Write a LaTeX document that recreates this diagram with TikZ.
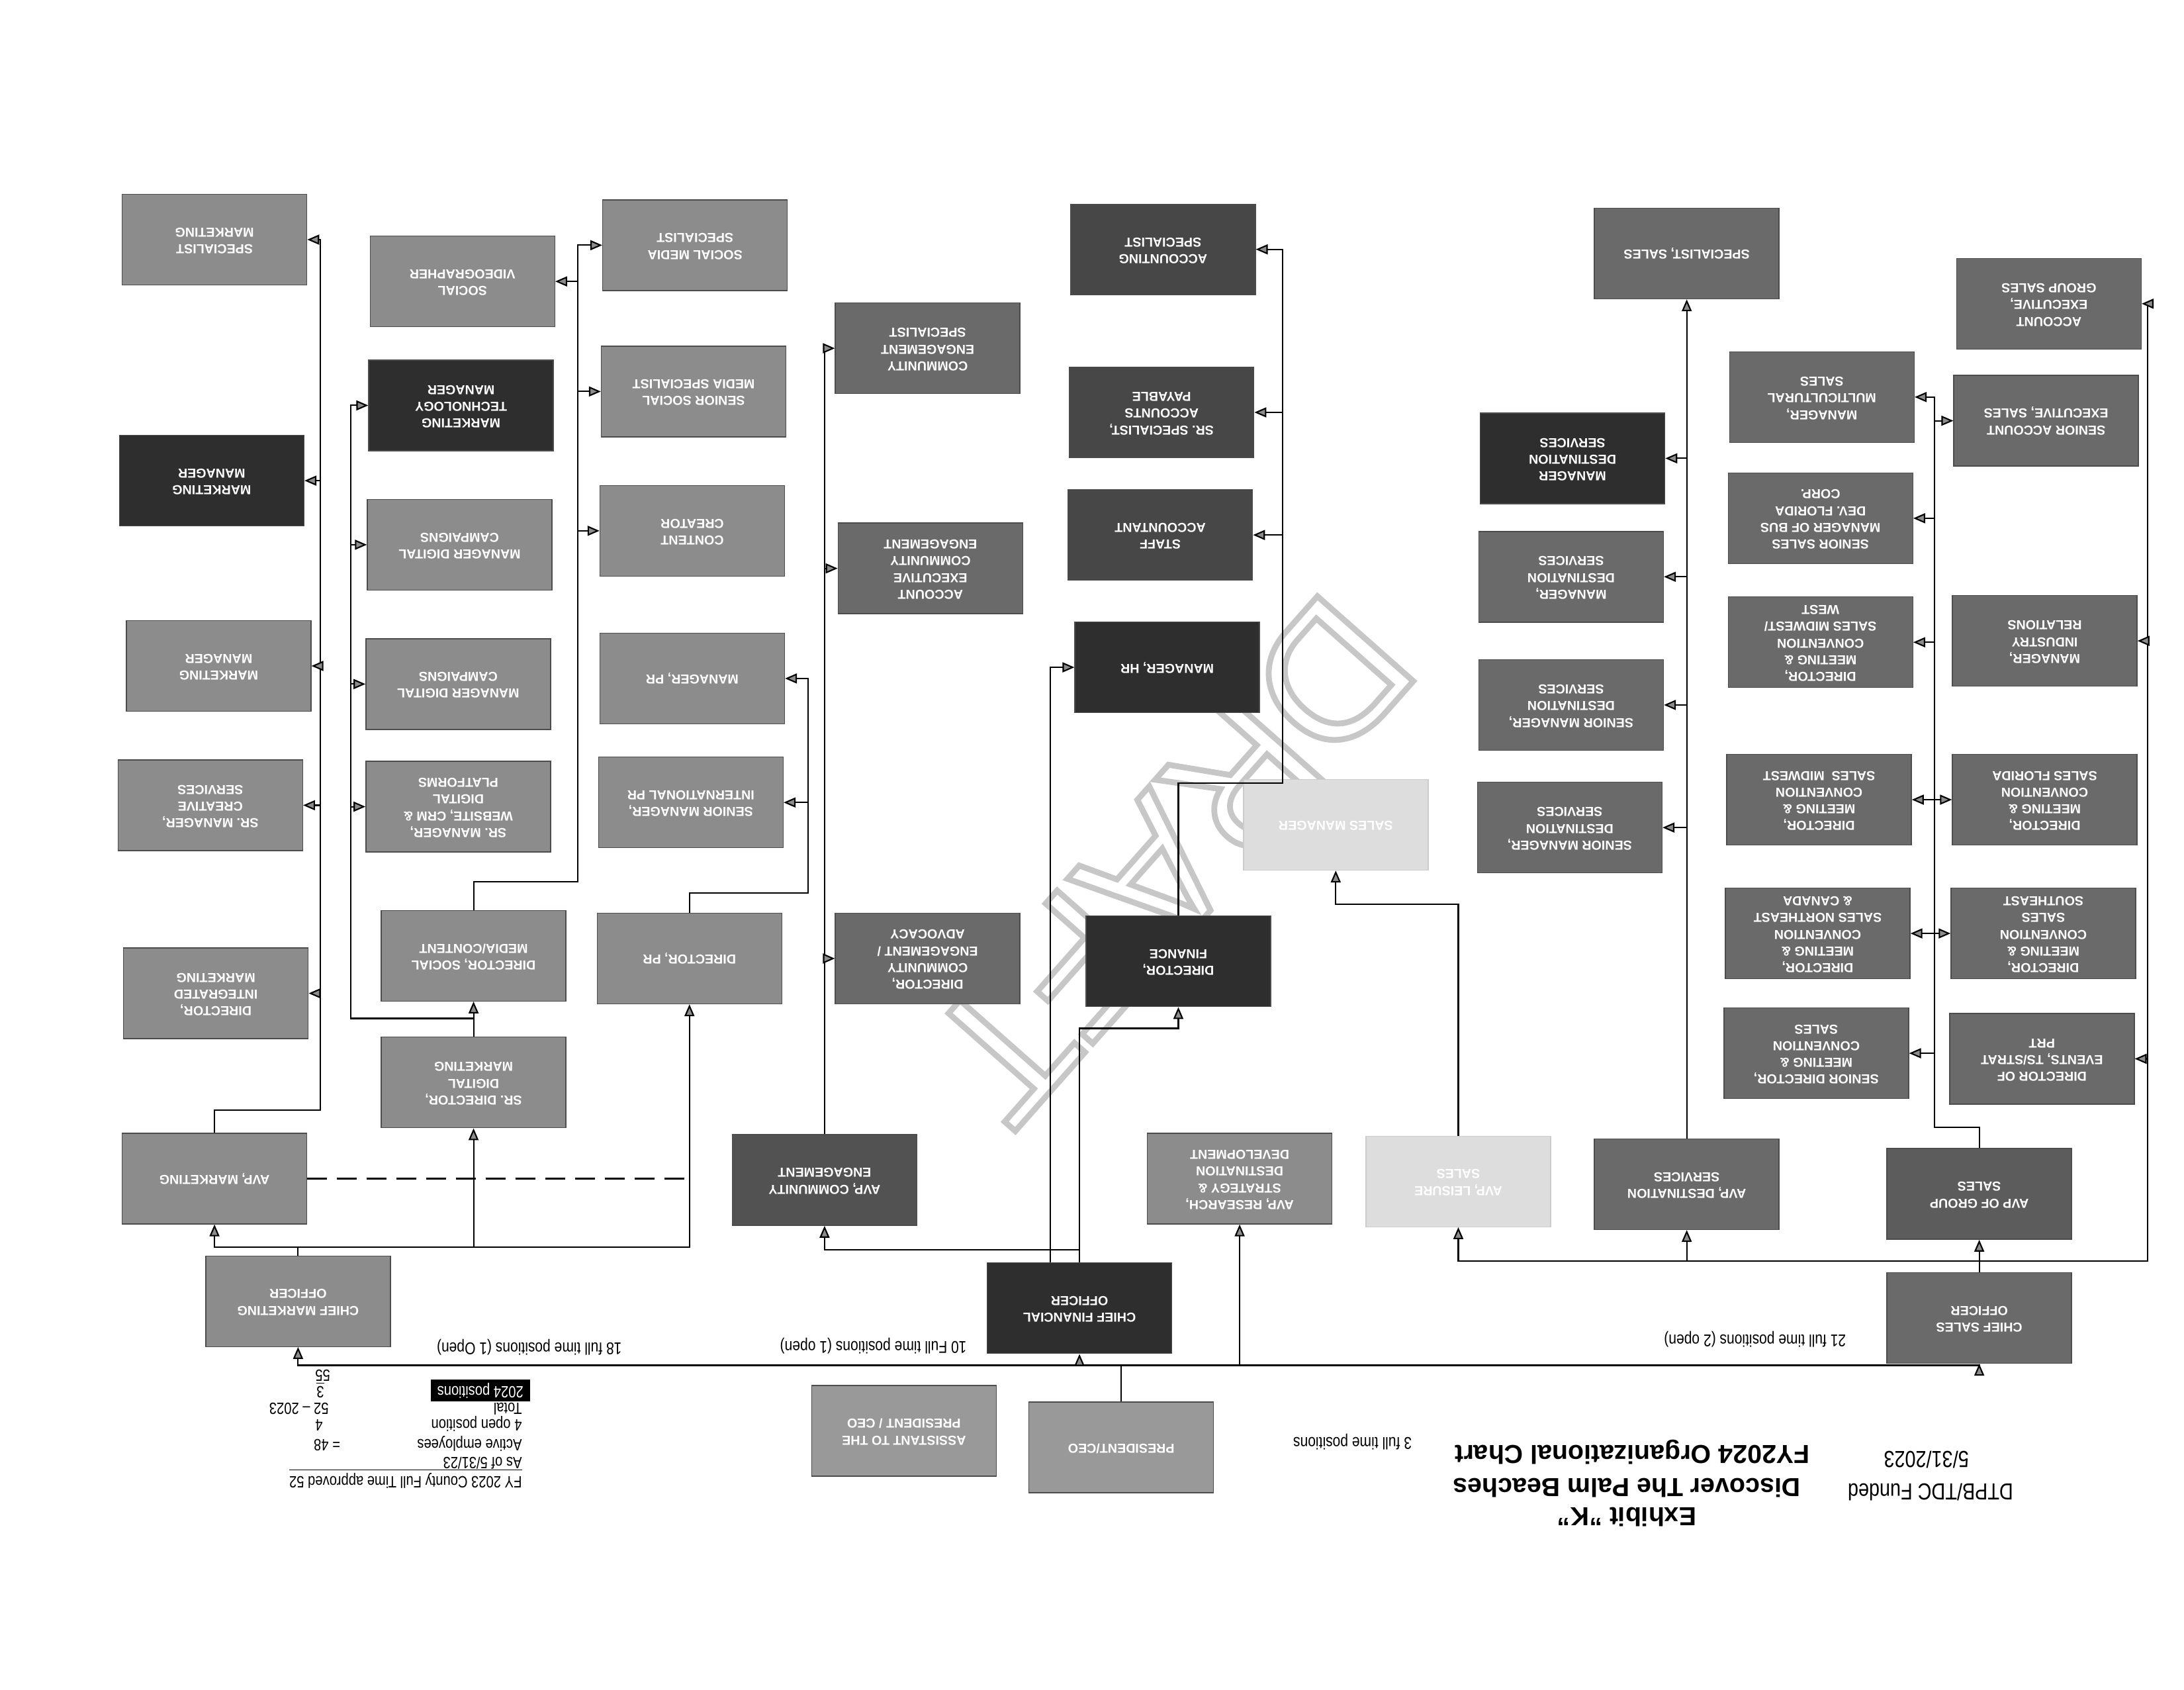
\documentclass[tikz,border=0pt]{standalone}
\usepackage{fontspec}
\setmainfont{Liberation Sans}
\newfontfamily\narrowfont{Liberation Sans}[FakeStretch=0.82]
\usepackage{graphicx}
\usetikzlibrary{arrows.meta,positioning,calc}

\definecolor{boxmid}{HTML}{8C8C8C}
\definecolor{boxlight}{HTML}{DDDDDD}
\definecolor{boxdark}{HTML}{6A6A6A}
\definecolor{boxdeep}{HTML}{474747}
\definecolor{boxblack}{HTML}{2E2E2E}

% the whole sheet is scanned upside down
\newcommand{\updown}[1]{\rotatebox[origin=c]{180}{\begin{tabular}{@{}c@{}}#1\end{tabular}}}
% hollow letters for the watermark
\newcommand{\hollow}[1]{\special{pdf:literal direct 1 Tr 2.5 w}#1\special{pdf:literal direct 0 Tr}}

\tikzset{
  post/.style={draw=black!70, line width=0.4pt, fill=boxmid, text=white,
    minimum width=27.9mm, minimum height=13.7mm, inner sep=0pt,
    font=\fontsize{5.6}{7.2}\selectfont\bfseries},
  lightpost/.style={post, fill=boxlight, draw=black!20},
  note/.style={font=\narrowfont\fontsize{7.3}{9}\selectfont, inner sep=0.5pt},
  legend/.style={font=\narrowfont\fontsize{7}{8.5}\selectfont, inner sep=0.5pt},
  titletext/.style={font=\fontsize{11.2}{14}\selectfont\bfseries, inner sep=0pt},
  fundtext/.style={font=\narrowfont\fontsize{10}{12}\selectfont, inner sep=0pt},
  watermark/.style={font=\fontsize{80}{80}\selectfont, text=black!22, rotate=228.5}
}

\begin{document}
\begin{tikzpicture}[x=0.21046mm, y=-0.21046mm, line width=0.6pt,
    >={Triangle[length=1.8mm,width=1.5mm,fill=black!45]}]
  \fill[white] (0,0) rectangle (1568,1213);
  \node[watermark] (draft) at (840,617) {\hollow{DRAFT}};

  % marketing
  \node[post] (specmkt) at (154,172) {\updown{SPECIALIST\\MARKETING}};
  \node[post, fill=boxblack] (mktmgr) at (152,345) {\updown{MARKETING\\MANAGER}};
  \node[post] (mktmgr2) at (157,478) {\updown{MARKETING\\MANAGER}};
  \node[post] (srmgrcre) at (151,578) {\updown{SR. MANAGER,\\CREATIVE\\SERVICES}};
  \node[post] (dirint) at (155,713) {\updown{DIRECTOR,\\INTEGRATED\\MARKETING}};
  \node[post] (avpmkt) at (154,846) {\updown{AVP, MARKETING}};
  \node[post] (cmo) at (214,934) {\updown{CHIEF MARKETING\\OFFICER}};

  \node[post] (socvid) at (332,202) {\updown{SOCIAL\\VIDEOGRAPHER}};
  \node[post, fill=boxblack] (mtm) at (331,291) {\updown{MARKETING\\TECHNOLOGY\\MANAGER}};
  \node[post] (mdc1) at (330,391) {\updown{MANAGER DIGITAL\\CAMPAIGNS}};
  \node[post] (mdc2) at (329,491) {\updown{MANAGER DIGITAL\\CAMPAIGNS}};
  \node[post] (srweb) at (329,579) {\updown{SR. MANAGER,\\WEBSITE, CRM \&\\DIGITAL\\PLATFORMS}};
  \node[post] (dirsoc) at (340,686) {\updown{DIRECTOR, SOCIAL\\MEDIA/CONTENT}};
  \node[post] (srdir) at (340,777) {\updown{SR. DIRECTOR,\\DIGITAL\\MARKETING}};

  \node[post] (smspec) at (499,176) {\updown{SOCIAL MEDIA\\SPECIALIST}};
  \node[post] (srsms) at (498,281) {\updown{SENIOR SOCIAL\\MEDIA SPECIALIST}};
  \node[post] (ccre) at (497,381) {\updown{CONTENT\\CREATOR}};
  \node[post] (mgrpr) at (497,487) {\updown{MANAGER, PR}};
  \node[post] (srintl) at (496,576) {\updown{SENIOR MANAGER,\\INTERNATIONAL PR}};
  \node[post] (dirpr) at (495,688) {\updown{DIRECTOR, PR}};

  % community and finance
  \node[post, fill=boxdark] (ces) at (666,250) {\updown{COMMUNITY\\ENGAGEMENT\\SPECIALIST}};
  \node[post, fill=boxdark] (aece) at (668,408) {\updown{ACCOUNT\\EXECUTIVE\\COMMUNITY\\ENGAGEMENT}};
  \node[post, fill=boxdark] (dcea) at (666,688) {\updown{DIRECTOR,\\COMMUNITY\\ENGAGEMENT /\\ADVOCACY}};
  \node[post, fill=black!68] (avpcomm) at (592,847) {\updown{AVP, COMMUNITY\\ENGAGEMENT}};

  \node[post, fill=boxdeep] (acctspec) at (835,179) {\updown{ACCOUNTING\\SPECIALIST}};
  \node[post, fill=boxdeep] (srspec) at (834,296) {\updown{SR. SPECIALIST,\\ACCOUNTS\\PAYABLE}};
  \node[post, fill=boxdeep] (staff) at (833,384) {\updown{STAFF\\ACCOUNTANT}};
  \node[post, fill=boxblack] (mgrhr) at (838,479) {\updown{MANAGER, HR}};
  \node[post, fill=boxblack] (dirfin) at (846,690) {\updown{DIRECTOR,\\FINANCE}};
  \node[post, fill=boxblack] (cfo) at (775,939) {\updown{CHIEF FINANCIAL\\OFFICER}};

  \node[post, fill=black!40] (ceo) at (805,1039) {\updown{PRESIDENT/CEO}};
  \node[post, fill=black!40] (asst) at (649,1027) {\updown{ASSISTANT TO THE\\PRESIDENT / CEO}};
  \node[post] (avpres) at (890,846) {\updown{AVP, RESEARCH,\\STRATEGY \&\\DESTINATION\\DEVELOPMENT}};
  \node[lightpost] (salesmgr) at (959,592) {\updown{SALES MANAGER}};
  \node[lightpost] (avpleis) at (1047,848) {\updown{AVP, LEISURE\\SALES}};

  % sales
  \node[post, fill=boxdark] (spsales) at (1211,182) {\updown{SPECIALIST, SALES}};
  \node[post, fill=boxblack] (mds) at (1129,329) {\updown{MANAGER\\DESTINATION\\SERVICES}};
  \node[post, fill=boxdark] (mgrds) at (1128,414) {\updown{MANAGER,\\DESTINATION\\SERVICES}};
  \node[post, fill=boxdark] (srmds1) at (1128,506) {\updown{SENIOR MANAGER,\\DESTINATION\\SERVICES}};
  \node[post, fill=boxdark] (srmds2) at (1127,594) {\updown{SENIOR MANAGER,\\DESTINATION\\SERVICES}};
  \node[post, fill=boxdark] (avpdest) at (1211,850) {\updown{AVP, DESTINATION\\SERVICES}};

  \node[post, fill=boxdark] (mgrmulti) at (1308,285) {\updown{MANAGER,\\MULTICULTURAL\\SALES}};
  \node[post, fill=boxdark] (srsalesmgr) at (1307,372) {\updown{SENIOR SALES\\MANAGER OF BUS\\DEV. FLORIDA\\CORP.}};
  \node[post, fill=boxdark] (dirmw) at (1307,461) {\updown{DIRECTOR,\\MEETING \&\\CONVENTION\\SALES MIDWEST/\\WEST}};
  \node[post, fill=boxdark] (dirmid) at (1306,574) {\updown{DIRECTOR,\\MEETING \&\\CONVENTION\\SALES \ MIDWEST}};
  \node[post, fill=boxdark] (dirne) at (1305,670) {\updown{DIRECTOR,\\MEETING \&\\CONVENTION\\SALES NORTHEAST\\\& CANADA}};
  \node[post, fill=boxdark] (srdirmc) at (1304,756) {\updown{SENIOR DIRECTOR,\\MEETING \&\\CONVENTION\\SALES}};

  \node[post, fill=boxdark] (acctgrp) at (1471,218) {\updown{ACCOUNT\\EXECUTIVE,\\GROUP SALES}};
  \node[post, fill=boxdark] (sraesales) at (1469,302) {\updown{SENIOR ACCOUNT\\EXECUTIVE, SALES}};
  \node[post, fill=boxdark] (mgrind) at (1468,460) {\updown{MANAGER,\\INDUSTRY\\RELATIONS}};
  \node[post, fill=boxdark] (dirfl) at (1468,574) {\updown{DIRECTOR,\\MEETING \&\\CONVENTION\\SALES FLORIDA}};
  \node[post, fill=boxdark] (dirse) at (1467,670) {\updown{DIRECTOR,\\MEETING \&\\CONVENTION\\SALES\\SOUTHEAST}};
  \node[post, fill=boxdark] (direvt) at (1466,760) {\updown{DIRECTOR OF\\EVENTS, TS/STRAT\\PRT}};
  \node[post, fill=black!64] (avpgrp) at (1421,857) {\updown{AVP OF GROUP\\SALES}};
  \node[post, fill=boxdark] (cso) at (1421,946) {\updown{CHIEF SALES\\OFFICER}};

  % marketing lines
  \coordinate (mktbus) at (230,797);
  \draw[->] (avpmkt.north) |- (mktbus) |- (specmkt.east);
  \foreach \n in {mktmgr,mktmgr2,srmgrcre,dirint}
    \draw[->] (mktbus |- \n.east) -- (\n.east);
  \coordinate (digbus) at (252,731);
  \draw[->] (srdir.north) |- (digbus) |- (mtm.west);
  \foreach \n in {mdc1,mdc2,srweb}
    \draw[->] (digbus |- \n.west) -- (\n.west);
  \draw[->] (srdir.north) -- (dirsoc.south);
  \coordinate (socbus) at (415,633);
  \draw[->] (dirsoc.north) |- (socbus) |- (smspec.west);
  \draw[->] (socbus |- socvid.east) -- (socvid.east);
  \foreach \n in {srsms,ccre}
    \draw[->] (socbus |- \n.west) -- (\n.west);
  \coordinate (prbus) at (580,641);
  \draw[->] (dirpr.north) |- (prbus) |- (mgrpr.east);
  \draw[->] (prbus |- srintl.east) -- (srintl.east);
  \coordinate (cmobus) at (214,895);
  \draw (cmo.north) -- (cmobus);
  \draw[->] (cmobus) -| (avpmkt.south);
  \draw[->] (cmobus) -| (srdir.south);
  \draw[->] (cmobus) -| (dirpr.south);
  \draw[dash pattern=on 3mm off 1.5mm] (avpmkt.east) -- (avpmkt.east -| dirpr.south);

  % community and finance lines
  \draw[->] (avpcomm.north) |- (ces.west);
  \foreach \n in {aece,dcea}
    \draw[->] (avpcomm.north |- \n.west) -- (\n.west);
  \draw[->] (cfo.north) -- ++(0,-9) -| (avpcomm.south);
  \draw[->] (cfo.north) -- ++(0,-168) -| (dirfin.south);
  \draw[->] ([xshift=-4.4mm]cfo.north) |- (mgrhr.west);
  \coordinate (finbus) at (921,562);
  \draw[->] (dirfin.north) |- (finbus) |- (acctspec.east);
  \foreach \n in {srspec,staff}
    \draw[->] (finbus |- \n.east) -- (\n.east);

  % president
  \coordinate (ceobus) at (805,980);
  \draw (ceo.north) -- (ceobus);
  \draw[->] (ceobus) -| (cmo.south);
  \draw[->] (ceobus) -| (cso.south);
  \draw[->] (ceobus -| cfo.south) -- (cfo.south);
  \draw[->] (ceobus -| avpres.south) -- (avpres.south);

  % sales lines
  \coordinate (salesbus) at (1421,905);
  \draw[->] (cso.north) -- (avpgrp.south);
  \draw[->] (salesbus) -| (avpleis.south);
  \draw[->] (salesbus -| avpdest.south) -- (avpdest.south);
  \draw[->] (avpleis.north) -- ++(0,-166) -| (salesmgr.south);
  \coordinate (grpbus) at (1542,905);
  \draw[->] (salesbus) -- (grpbus) |- (acctgrp.east);
  \foreach \n in {mgrind,direvt}
    \draw[->] (grpbus |- \n.east) -- (\n.east);
  \draw[->] (avpdest.north) -- (spsales.south);
  \foreach \n in {mds,mgrds,srmds1,srmds2}
    \draw[->] (avpdest.north |- \n.east) -- (\n.east);
  \coordinate (meetbus) at (1389,809);
  \draw[->] (avpgrp.north) |- (meetbus) |- (mgrmulti.east);
  \foreach \n in {srsalesmgr,dirmw,srdirmc}
    \draw[->] (meetbus |- \n.east) -- (\n.east);
  \draw[->] (meetbus |- sraesales.west) -- (sraesales.west);
  \draw[<->] (dirmid.east) -- (dirfl.west);
  \draw[<->] (dirne.east) -- (dirse.west);

  % counts
  \node[note] (mktcount) at (380,967) {\updown{18 full time positions (1 Open)}};
  \node[note] (fincount) at (627,966) {\updown{10 Full time positions (1 open)}};
  \node[note] (salescount) at (1260,961) {\updown{21 full time positions (2 open)}};
  \node[note] (execcount) at (971,1035) {\updown{3 full time positions}};

  % title
  \node[titletext] (exhibit) at (1168,1087) {\updown{Exhibit "K"}};
  \node[titletext] (dtpbname) at (1168,1066) {\updown{Discover The Palm Beaches}};
  \node[titletext] (fyorg) at (1172,1042) {\updown{FY2024 Organizational Chart}};
  \node[fundtext] (funded) at (1386,1069) {\updown{DTPB/TDC Funded}};
  \node[fundtext] (asof) at (1383,1046) {\updown{5/31/2023}};

  % legend
  \node[legend, anchor=east] (fyapproved) at (376,1062) {\updown{\underline{FY 2023 County Full Time approved 52}}};
  \node[legend, anchor=east] (asof23) at (376,1049) {\updown{As of 5/31/23}};
  \node[legend, anchor=east] (active) at (376,1036) {\updown{Active employees}};
  \node[legend, anchor=west] (activenum) at (224,1036) {\updown{= 48}};
  \node[legend, anchor=east] (openpos) at (376,1022) {\updown{4 open position}};
  \node[legend, anchor=west] (opennum) at (225,1022) {\updown{4}};
  \node[legend, anchor=east] (total) at (376,1010) {\updown{Total}};
  \node[legend, anchor=west] (totalnum) at (192,1010) {\updown{52 \textendash{} 2023}};
  \node[legend, anchor=east, fill=black, text=white, inner xsep=1mm] (pos24) at (381,998) {\updown{2024 positions}};
  \node[legend, anchor=west] (newnum) at (226,998) {\updown{\underline{3}}};
  \node[legend, anchor=west] (grandtotal) at (225,986) {\updown{55}};
\end{tikzpicture}
\end{document}
